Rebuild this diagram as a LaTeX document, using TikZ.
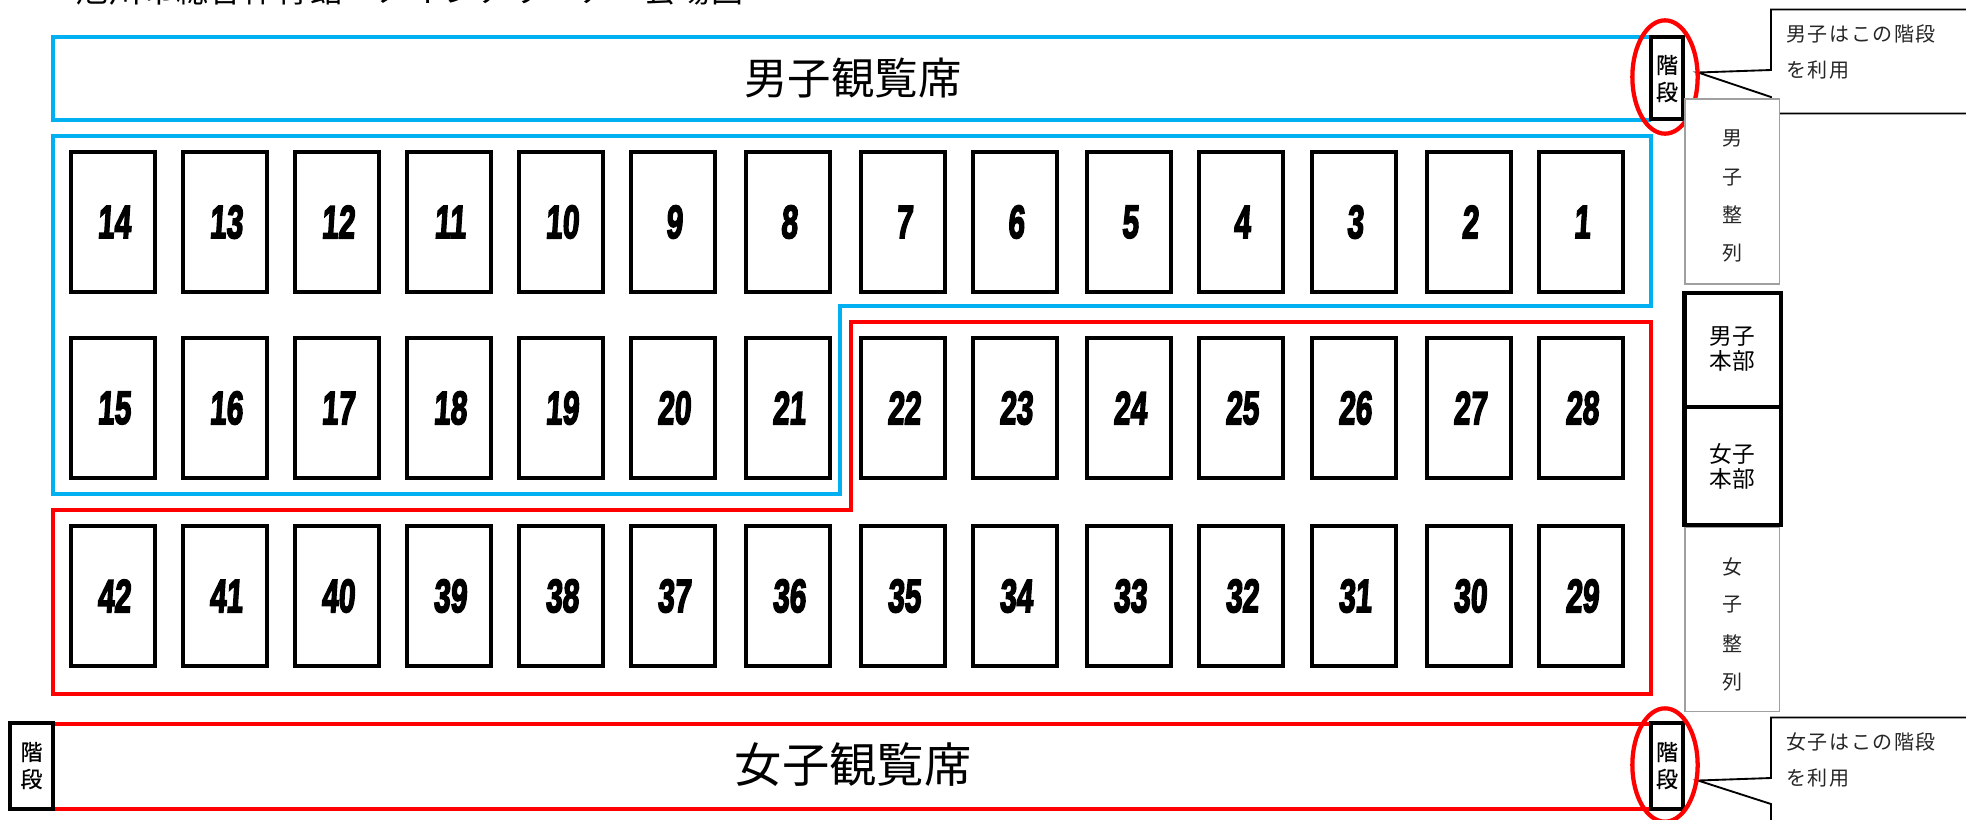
\documentclass[tikz,border=0pt]{standalone}
\usepackage{fontspec}
\newfontfamily\cjk{Noto Sans CJK JP}
\newfontfamily\cjkmed[FakeBold=0.6]{Noto Sans CJK JP}
\newfontfamily\numfont[BoldFeatures={FakeBold=4,FakeSlant=0.1}]{Liberation Sans}
\definecolor{cblue}{HTML}{00B0F0}
\definecolor{cred}{HTML}{FF0000}
\definecolor{cgray}{HTML}{A0A0A0}
\usetikzlibrary{shapes.geometric}
\tikzset{
  px/.style={x=0.75pt,y=-0.75pt},
  seatbox/.style={draw=black,line width=3pt,fill=white},
  seatnum/.style={inner sep=0pt,font=\numfont\bfseries\fontsize{35}{35}\selectfont},
  zone/.style={line width=3pt,miter limit=10},
  stairbox/.style={draw=black,line width=3.2pt,fill=white,inner sep=0pt},
  hqbox/.style={draw=black,line width=3.2pt,fill=white},
  linebox/.style={draw=cgray,line width=1pt,fill=white},
  txt/.style={inner sep=0pt,font=\cjk\fontsize{15}{15}\selectfont,text=black!85},
  stairtxt/.style={inner sep=0pt,font=\cjkmed\fontsize{16.5}{16.5}\selectfont,text=black},
  hqtxt/.style={inner sep=0pt,font=\cjk\fontsize{17}{17}\selectfont,text=black},
  calltxt/.style={inner sep=0pt,anchor=west,font=\cjk\fontsize{15}{15}\addfontfeature{LetterSpace=8}\selectfont,text=black!85},
  note/.style={draw=black,line width=1.4pt,line join=miter},
  ring/.style={draw=cred,line width=3.2pt,ellipse,inner sep=0pt},
}
\newcommand{\seat}[3]{%
  \draw[seatbox] (#1,#2) rectangle ++(84,139.5);
  \node[seatnum] (n#3) at (#1+43,#2+70) {\scalebox{0.64}[1]{#3}};
}
\begin{document}
\begin{tikzpicture}[px]
\useasboundingbox (0,0) rectangle (1966,819);
\fill[white] (0,0) rectangle (1966,819);
% heading, cut off by the top edge as in the reference
\begin{scope}
\clip (0,0) rectangle (1966,819);
\node[anchor=west,inner sep=0pt,font=\cjk\fontsize{24}{24}\addfontfeature{LetterSpace=4.5}\selectfont] (head) at (76,-10) {旭川市総合体育館　メインアリーナ　会場図};
\end{scope}
% zones
\draw[zone,cblue] (1651,37) -- (53,37) -- (53,119.5) -- (1651,119.5);
\draw[zone,cblue] (53,136) -- (1651,136) -- (1651,306) -- (840,306) -- (840,494) -- (53,494) -- cycle;
\draw[zone,cred] (851,322) -- (1651,322) -- (1651,694) -- (53,694) -- (53,510) -- (851,510) -- cycle;
\draw[zone,cred] (53,724) -- (1651,724);
\draw[zone,cred] (53,809) -- (1651,809);
% seats
\foreach \n/\x in {14/71,13/183,12/295,11/407,10/519,9/631,8/746,7/861,6/973,5/1087,4/1199,3/1312,2/1427,1/1539}{\seat{\x}{152}{\n}}
\foreach \n/\x in {15/71,16/183,17/295,18/407,19/519,20/631,21/746,22/861,23/973,24/1087,25/1199,26/1312,27/1427,28/1539}{\seat{\x}{338}{\n}}
\foreach \n/\x in {42/71,41/183,40/295,39/407,38/519,37/631,36/746,35/861,34/973,33/1087,32/1199,31/1312,30/1427,29/1539}{\seat{\x}{526}{\n}}
% titles
\node[txt,font=\cjk\fontsize{32.6}{32.6}\selectfont,text=black] (mt) at (853,78) {男子観覧席};
\node[txt,font=\cjk\fontsize{35.5}{35.5}\selectfont,text=black] (ft) at (853,765) {女子観覧席};
% callouts
\draw[note] (1990,9.5) -- (1771,9.5) -- (1771,70) -- (1698,72.5) -- (1771,97) -- (1771,113.5) -- (1990,113.5);
\draw[note] (1990,717.5) -- (1771,717.5) -- (1771,778) -- (1698,780.5) -- (1771,804) -- (1771,830);
\node[calltxt] (mc1) at (1786,34) {男子はこの階段};
\node[calltxt] (mc2) at (1786,70) {を利用};
\node[calltxt] (fc1) at (1786,741.5) {女子はこの階段};
\node[calltxt] (fc2) at (1786,778) {を利用};
% stairs with rings
\node[stairbox,minimum width=24pt,minimum height=62pt] (st1) at (1667,78) {};
\node[stairbox,minimum width=24pt,minimum height=64pt] (st2) at (1667,766) {};
\node[stairbox,minimum width=32pt,minimum height=64pt] (st3) at (31.5,766) {};
\node[ring,minimum width=49pt,minimum height=85pt] (r1) at (1665,77) {};
\node[ring,minimum width=49pt,minimum height=85pt] (r2) at (1665,765) {};
\node[stairtxt] at (1667,65) {階};
\node[stairtxt] at (1667,92) {段};
\node[stairtxt] at (1667,752) {階};
\node[stairtxt] at (1667,779) {段};
\node[stairtxt] at (31.5,752) {階};
\node[stairtxt] at (31.5,779) {段};
% line-up boxes
\draw[linebox] (1685,99) rectangle (1779.5,284);
\node[txt] at (1732,138) {男};
\node[txt] at (1732,178) {子};
\node[txt] at (1732,215) {整};
\node[txt] at (1732,253) {列};
\draw[linebox] (1685,527.5) rectangle (1779.5,711.5);
\node[txt] at (1732,567) {女};
\node[txt] at (1732,605) {子};
\node[txt] at (1732,644) {整};
\node[txt] at (1732,682) {列};
% headquarters
\draw[hqbox] (1684.5,293) rectangle (1781,407);
\draw[hqbox] (1684.5,407) rectangle (1781,525);
\node[hqtxt] at (1732,337) {男子};
\node[hqtxt] at (1732,361) {本部};
\node[hqtxt] at (1732,454) {女子};
\node[hqtxt] at (1732,479) {本部};
\end{tikzpicture}
\end{document}
